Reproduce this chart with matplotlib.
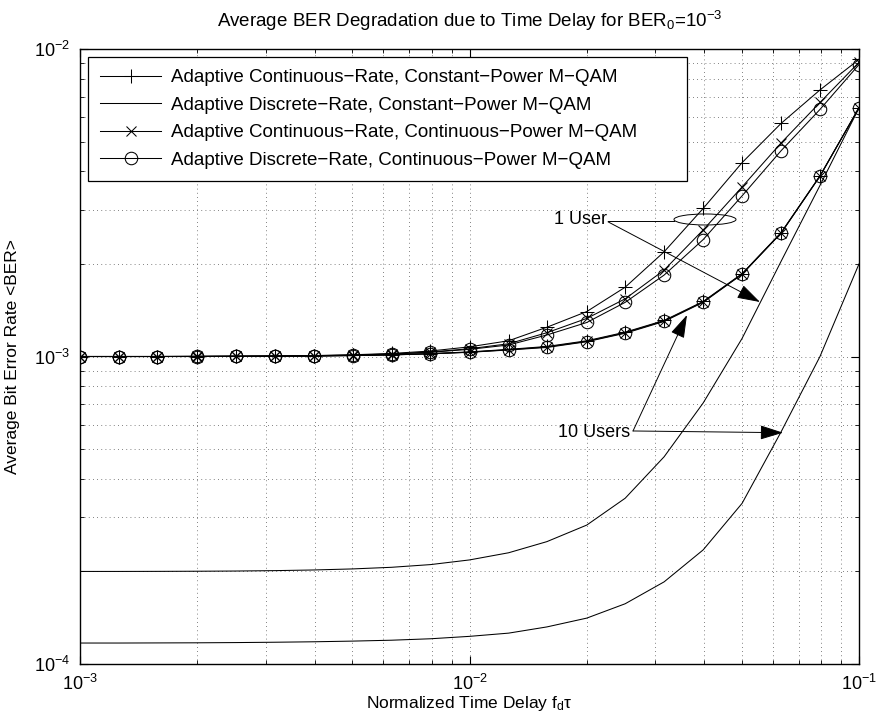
import numpy as np
import matplotlib
matplotlib.use("Agg")
import matplotlib.pyplot as plt
from matplotlib.patches import Ellipse

plt.rcParams['font.family'] = ['Liberation Sans', 'DejaVu Sans']
plt.rcParams['mathtext.fontset'] = 'custom'
plt.rcParams['mathtext.rm'] = 'Liberation Sans'
plt.rcParams['mathtext.it'] = 'Liberation Sans:italic'
plt.rcParams['mathtext.default'] = 'rm'

# normalized time delay f_d*tau
delay = [0.001, 0.00126, 0.00158, 0.002, 0.00251, 0.00316, 0.00398, 0.00501,
         0.00631, 0.00794, 0.01, 0.0126, 0.0158, 0.02, 0.0251, 0.0316,
         0.0398, 0.0501, 0.0631, 0.0794, 0.1]

# average BER, in units of 1e-3
# 1 user
cr_cp_1 = [1.000, 1.000, 1.000, 1.001, 1.002, 1.004, 1.007, 1.013, 1.023, 1.042,
           1.075, 1.125, 1.245, 1.40, 1.68, 2.19, 3.03, 4.27, 5.73, 7.36, 9.25]
dr_cp_1 = [0.2000, 0.2000, 0.2001, 0.2003, 0.2006, 0.2012, 0.2022, 0.2038, 0.2063,
           0.2105, 0.218, 0.230, 0.250, 0.283, 0.346, 0.472, 0.706, 1.145, 2.04,
           3.60, 6.43]
cr_cpw_1 = [1.000, 1.000, 1.000, 1.001, 1.002, 1.003, 1.006, 1.011, 1.019, 1.034,
            1.06, 1.10, 1.195, 1.33, 1.54, 1.91, 2.58, 3.56, 4.95, 6.70, 9.05]
dr_cpw_1 = [1.000, 1.000, 1.000, 1.001, 1.002, 1.003, 1.005, 1.010, 1.018, 1.032,
            1.055, 1.09, 1.175, 1.29, 1.50, 1.84, 2.40, 3.33, 4.67, 6.36, 8.90]
# 10 users
cr_cp_10 = [1.000, 1.000, 1.000, 1.000, 1.001, 1.002, 1.004, 1.008, 1.013, 1.022,
            1.035, 1.055, 1.078, 1.125, 1.20, 1.31, 1.51, 1.86, 2.53, 3.87, 6.44]
dr_cp_10 = [0.1170, 0.1170, 0.1171, 0.1172, 0.1174, 0.1177, 0.1181, 0.1187, 0.1195,
            0.1208, 0.123, 0.126, 0.132, 0.141, 0.157, 0.185, 0.235, 0.333, 0.569,
            1.00, 2.00]
cr_cpw_10 = [1.000, 1.000, 1.000, 1.000, 1.001, 1.002, 1.004, 1.007, 1.012, 1.021,
             1.033, 1.052, 1.074, 1.120, 1.195, 1.305, 1.505, 1.855, 2.52, 3.86, 6.44]
dr_cpw_10 = [1.000, 1.000, 1.000, 1.000, 1.001, 1.002, 1.004, 1.007, 1.012, 1.020,
             1.032, 1.05, 1.07, 1.117, 1.19, 1.30, 1.50, 1.85, 2.52, 3.86, 6.44]

labels = ['Adaptive Continuous\u2212Rate, Constant\u2212Power M\u2212QAM',
          'Adaptive Discrete\u2212Rate, Constant\u2212Power M\u2212QAM',
          'Adaptive Continuous\u2212Rate, Continuous\u2212Power M\u2212QAM',
          'Adaptive Discrete\u2212Rate, Continuous\u2212Power M\u2212QAM']

x = np.array(delay)
s = 1e-3
lw = 0.75

fig = plt.figure(figsize=(8.76, 7.22), dpi=100)
ax = fig.add_axes([80/876, 58/722, 779/876, 615/722])

sty = [dict(marker='+', ms=10, mew=0.75),
       dict(marker=None),
       dict(marker='x', ms=7, mew=0.75),
       dict(marker='o', ms=9, mew=0.75, mfc='none')]

for ys, st, lab in zip([cr_cp_1, dr_cp_1, cr_cpw_1, dr_cpw_1], sty, labels):
    ax.plot(x, np.array(ys)*s, '-', color='k', lw=lw, label=lab, **st)
for ys, st in zip([cr_cp_10, dr_cp_10, cr_cpw_10, dr_cpw_10], sty):
    ax.plot(x, np.array(ys)*s, '-', color='k', lw=lw, **st)

ax.set_xscale('log')
ax.set_yscale('log')
ax.set_xlim(1e-3, 1e-1)
ax.set_ylim(1e-4, 1e-2)

ax.grid(True, which='both', linestyle=(0, (1, 4)), color='0.35', linewidth=0.6)
ax.tick_params(which='both', direction='in', top=True, right=True, labelsize=13)
ax.tick_params(which='major', length=6, width=0.8, pad=7)
ax.tick_params(which='minor', length=3, width=0.6)
for sp in ax.spines.values():
    sp.set_linewidth(1.0)

ax.set_title('Average BER Degradation due to Time Delay for BER$_0$=10$^{-3}$',
             fontsize=13.5, pad=16)
ax.set_xlabel('Normalized Time Delay f$_d$\u03c4', fontsize=12.5, labelpad=0)
ax.set_ylabel('Average Bit Error Rate <BER>', fontsize=12.5, labelpad=10)

# legend frame stretched to the right like the MATLAB box
leg = ax.legend(loc='upper left', bbox_to_anchor=(0.0103, 0.5, 0.769, 0.487),
                mode='expand', borderaxespad=0, fontsize=13.5, fancybox=False,
                framealpha=1, edgecolor='k', handlelength=3.25,
                handletextpad=0.5, labelspacing=0.55, borderpad=0.65)
leg.get_frame().set_linewidth(0.9)

# annotations
arr = dict(arrowstyle='-|>,head_length=0.9,head_width=0.28', color='k', lw=0.7,
           shrinkA=0, shrinkB=0, mutation_scale=16)
ax.add_patch(Ellipse((0.8023, 0.7228), 0.0796, 0.0179, transform=ax.transAxes,
                     fill=False, edgecolor='k', lw=0.7))
ax.text(0.6765, 0.7220, '1 User', transform=ax.transAxes, ha='right',
        va='center', fontsize=13)
ax.plot([0.6778, 0.7625], [0.7203, 0.7203], color='k', lw=0.7,
        transform=ax.transAxes)
ax.annotate('', xy=(0.8729, 0.5886), xytext=(0.6778, 0.7190),
            xycoords='axes fraction', arrowprops=arr)

ax.text(0.7060, 0.3761, '10 Users', transform=ax.transAxes, ha='right',
        va='center', fontsize=13)
ax.annotate('', xy=(0.7792, 0.5675), xytext=(0.7099, 0.3789),
            xycoords='axes fraction', arrowprops=arr)
ax.annotate('', xy=(0.9025, 0.3761), xytext=(0.7099, 0.3789),
            xycoords='axes fraction', arrowprops=arr)

fig.savefig('out.png', dpi=100)
